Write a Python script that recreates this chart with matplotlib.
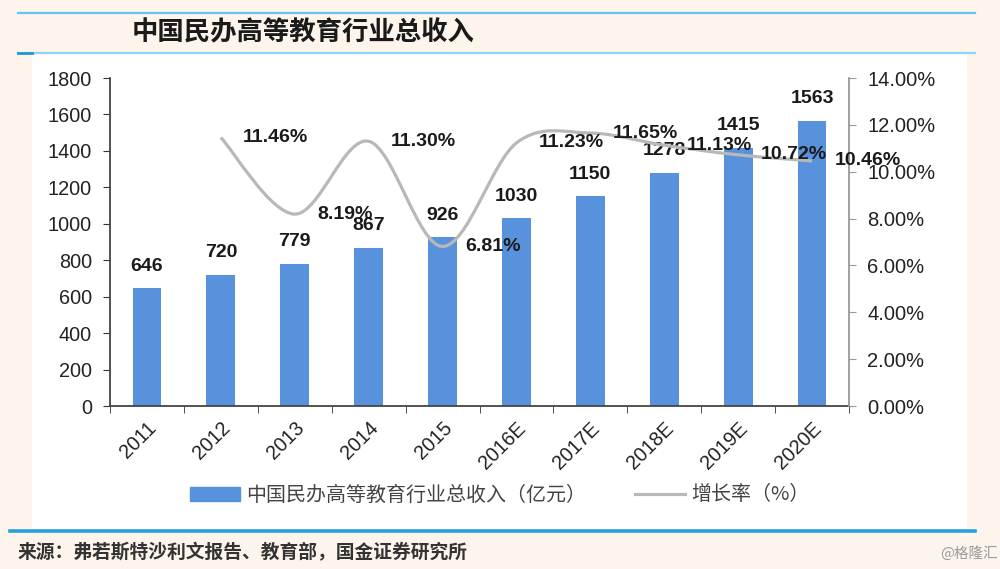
import matplotlib
matplotlib.use("Agg")
import matplotlib.pyplot as plt
from matplotlib.lines import Line2D
from matplotlib.patches import Rectangle, PathPatch
from matplotlib.path import Path
from matplotlib.ticker import FuncFormatter
import numpy as np

plt.rcParams['font.family'] = ['Liberation Sans', 'Noto Sans CJK SC', 'DejaVu Sans']

# 数据
years = ['2011', '2012', '2013', '2014', '2015', '2016E', '2017E', '2018E', '2019E', '2020E']
revenue = [646, 720, 779, 867, 926, 1030, 1150, 1278, 1415, 1563]
growth_years = years[1:]
growth = [11.46, 8.19, 11.30, 6.81, 11.23, 11.65, 11.13, 10.72, 10.46]

title = '中国民办高等教育行业总收入'
source = '来源：弗若斯特沙利文报告、教育部，国金证券研究所'
bar_label = '中国民办高等教育行业总收入（亿元）'
line_label = '增长率（%）'

fig = plt.figure(figsize=(10, 5.69), dpi=100)
fig.patch.set_facecolor('#fdf5ec')

# 白色底板
fig.patches.append(Rectangle((0.032, 1 - 531 / 569), 0.935, (531 - 53) / 569,
                             transform=fig.transFigure, facecolor='white',
                             edgecolor='none', zorder=-10))

# 蓝色分隔线
fig.add_artist(Line2D([0.018, 0.975], [1 - 13 / 569] * 2, color='#62c6ee', lw=1.6))
fig.add_artist(Line2D([0.018, 0.975], [1 - 53 / 569] * 2, color='#8fd3f2', lw=1.6))
fig.add_artist(Line2D([0.018, 0.032], [1 - 53 / 569] * 2, color='#1f9ad8', lw=2.0))
fig.add_artist(Line2D([0.010, 0.975], [1 - 531 / 569] * 2, color='#2a9fe0', lw=2.6))

fig.text(0.132, 1 - 33 / 569, title, family=['Noto Sans CJK SC'], fontsize=19,
         fontweight='bold', fontstyle='italic', color='#1a1a1a', va='center')
fig.text(0.018, 1 - 553 / 569, source, family=['Noto Sans CJK SC'], fontsize=13.5,
         fontweight='bold', color='#333333', va='center')
fig.text(0.998, 1 - 553 / 569, '@格隆汇', family=['Noto Sans CJK SC'], fontsize=10.5,
         color='#9a9a9a', va='center', ha='right')

ax = fig.add_axes([0.110, (569 - 406) / 569, 0.739, (406 - 78) / 569])
ax.set_facecolor('none')
x = np.arange(len(years))
bars = ax.bar(x, revenue, width=0.39, color='#5892dc', zorder=2)
ax.set_xlim(-0.5, len(years) - 0.5)
ax.set_ylim(0, 1800)
ax.set_yticks(range(0, 1801, 200))

for xi, v in zip(x, revenue):
    ax.annotate(str(v), (xi, v), xytext=(0, 16), textcoords='offset points',
                ha='center', va='center', fontsize=14, fontweight='bold',
                color='#1a1a1a', zorder=5)

ax.set_xticks(x)
ax.set_xticklabels(years, rotation=45, ha='right', rotation_mode='anchor',
                   fontsize=14.3, color='#222222')
ax.set_xticks(np.arange(-0.5, len(years) + 0.5, 1), minor=True)
ax.tick_params(axis='x', which='major', length=0, pad=9)
ax.tick_params(axis='x', which='minor', length=5, direction='out', color='#333333')
ax.tick_params(axis='y', length=5, direction='out', color='#333333',
               labelsize=14.3, labelcolor='#222222', pad=8)
for s in ['top', 'right']:
    ax.spines[s].set_visible(False)
ax.spines['left'].set_color('#444444')
ax.spines['bottom'].set_color('#444444')
ax.spines['left'].set_linewidth(1.3)
ax.spines['bottom'].set_linewidth(1.3)

ax2 = ax.twinx()
ax2.set_ylim(0, 14)
ax2.set_yticks(range(0, 15, 2))
ax2.yaxis.set_major_formatter(FuncFormatter(lambda v, p: f'{v:.2f}%'))
ax2.tick_params(axis='y', length=5, direction='out', color='#999999',
                labelsize=14.5, labelcolor='#222222', pad=8)
for s in ['top', 'left', 'bottom']:
    ax2.spines[s].set_visible(False)
ax2.spines['right'].set_color('#999999')
ax2.spines['right'].set_linewidth(1.3)

# 平滑曲线（Excel 风格）
gx = x[1:].astype(float)
gy = np.array(growth)
verts = [(gx[0], gy[0])]
codes = [Path.MOVETO]
n = len(gx)
for i in range(n - 1):
    p0 = i - 1 if i > 0 else i
    p3 = i + 2 if i + 2 < n else i + 1
    c1 = (gx[i] + (gx[i + 1] - gx[p0]) / 6, gy[i] + (gy[i + 1] - gy[p0]) / 6)
    c2 = (gx[i + 1] - (gx[p3] - gx[i]) / 6, gy[i + 1] - (gy[p3] - gy[i]) / 6)
    verts += [c1, c2, (gx[i + 1], gy[i + 1])]
    codes += [Path.CURVE4] * 3
ax2.add_patch(PathPatch(Path(verts, codes), facecolor='none', edgecolor='#b8b8b8',
                        lw=2.3, zorder=3))

for xi, v in zip(gx, gy):
    ax2.annotate(f'{v:.2f}%', (xi, v), xytext=(16, 0), textcoords='offset points',
                 ha='left', va='center', fontsize=14, fontweight='bold',
                 color='#1a1a1a', zorder=5)

# 图例
handles = [Rectangle((0, 0), 1, 1, color='#5892dc'),
           Line2D([0], [0], color='#b8b8b8', lw=2.3)]
fig.legend(handles, [bar_label, line_label], loc='center',
           bbox_to_anchor=(0.5, 1 - 495 / 569), ncol=2, frameon=False,
           prop={'family': ['Noto Sans CJK SC'], 'size': 14.4}, labelcolor='#444444',
           handlelength=2.5, handleheight=0.7, columnspacing=2.45, handletextpad=0.3)

fig.savefig('out.png', dpi=100, facecolor=fig.get_facecolor())
